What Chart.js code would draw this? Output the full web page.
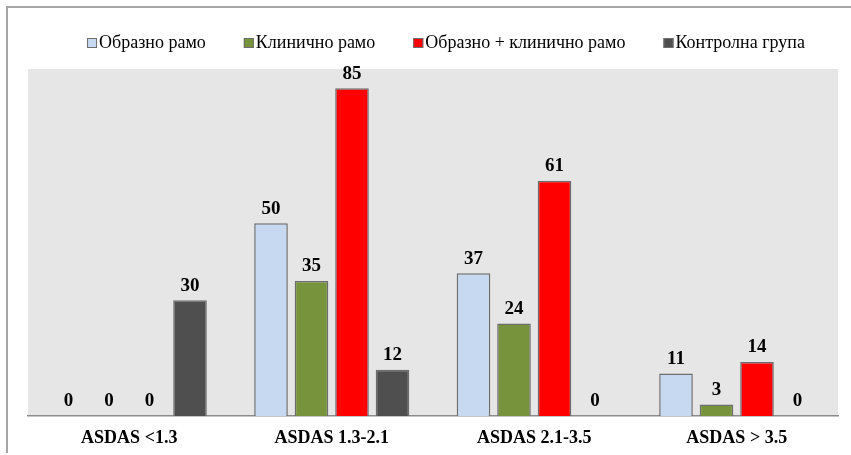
<!DOCTYPE html>
<html>
<head>
<meta charset="utf-8">
<script src="https://cdn.jsdelivr.net/npm/chart.js@4.4.1/dist/chart.umd.min.js"></script>
<style>
  html, body { margin: 0; padding: 0; background: #fff; }
  #wrap { width: 851px; height: 455px; }
</style>
</head>
<body>
<div id="wrap"><canvas id="chart"></canvas></div>
<script>
const categories = ['ASDAS <1.3', 'ASDAS 1.3-2.1', 'ASDAS 2.1-3.5', 'ASDAS > 3.5'];
const seriesNames = ['Образно рамо', 'Клинично рамо', 'Образно + клинично рамо', 'Контролна група'];
const imaging    = [0, 50, 37, 11];
const clinical   = [0, 35, 24, 3];
const combined   = [0, 85, 61, 14];
const control    = [30, 12, 0, 0];
const colours    = ['#c6d9f1', '#77933c', '#ff0000', '#4f4f4f'];

const serif = '"Liberation Serif", "Times New Roman", serif';

// frame + grey plot background
const backdrop = {
  id: 'backdrop',
  beforeDraw(chart) {
    const { ctx, chartArea: a } = chart;
    ctx.save();
    ctx.fillStyle = '#e6e6e6';
    ctx.fillRect(a.left, a.top, a.right - a.left, a.bottom - a.top);
    ctx.strokeStyle = '#a6a6a6';
    ctx.lineWidth = 2;
    ctx.beginPath();
    ctx.moveTo(851, 7);
    ctx.lineTo(7, 7);
    ctx.lineTo(7, 453);
    ctx.stroke();
    ctx.restore();
  }
};

// value labels above the bars
const valueLabels = {
  id: 'valueLabels',
  afterDatasetsDraw(chart) {
    const ctx = chart.ctx;
    ctx.save();
    ctx.font = 'bold 19px ' + serif;
    ctx.fillStyle = '#000';
    ctx.textAlign = 'center';
    ctx.textBaseline = 'bottom';
    chart.data.datasets.forEach((ds, i) => {
      chart.getDatasetMeta(i).data.forEach((bar, j) => {
        ctx.fillText(ds.data[j], bar.x, bar.y - 5);
      });
    });
    ctx.restore();
  }
};

// legend with small square keys, tight text spacing
const keyLegend = {
  id: 'keyLegend',
  afterDraw(chart) {
    const ctx = chart.ctx;
    ctx.save();
    ctx.font = '18px ' + serif;
    ctx.textBaseline = 'middle';
    const gapBox = 2, gapItem = 38, box = 10, y = 43;
    const items = chart.data.datasets.map(ds => ({ label: ds.label, colour: ds.backgroundColor, w: box + gapBox + ctx.measureText(ds.label).width }));
    const total = items.reduce((s, it) => s + it.w, 0) + gapItem * (items.length - 1);
    let x = 446 - total / 2;
    items.forEach(it => {
      ctx.fillStyle = it.colour;
      ctx.fillRect(x, y - box / 2, box, box);
      ctx.strokeStyle = '#6d6d6d';
      ctx.lineWidth = 1;
      ctx.strokeRect(x + 0.5, y - box / 2 + 0.5, box - 1, box - 1);
      ctx.fillStyle = '#000';
      ctx.fillText(it.label, x + box + gapBox, y);
      x += it.w + gapItem;
    });
    ctx.restore();
  }
};

const seriesValues = [imaging, clinical, combined, control];

new Chart(document.getElementById('chart'), {
  type: 'bar',
  data: {
    labels: categories,
    datasets: seriesValues.map((vals, i) => ({
      label: seriesNames[i],
      data: vals,
      backgroundColor: colours[i],
      borderColor: '#6d6d6d',
      borderWidth: c => (c.raw === 0 ? 0 : 1.5),
      categoryPercentage: 0.8,
      barPercentage: 0.83
    }))
  },
  options: {
    responsive: true,
    maintainAspectRatio: false,
    animation: false,
    layout: { padding: { top: 69, left: 28, right: 13, bottom: 0 } },
    plugins: {
      legend: { display: false },
      tooltip: { enabled: false }
    },
    scales: {
      x: {
        grid: { display: false, drawTicks: false },
        border: { display: true, color: '#8c8c8c', width: 1.5 },
        ticks: { color: '#000', font: { family: serif, size: 18, weight: 'bold' }, padding: 12 },
        afterFit(scale) { scale.height = 39; }
      },
      y: {
        display: false,
        min: 0,
        max: 90
      }
    }
  },
  plugins: [backdrop, valueLabels, keyLegend]
});
</script>
</body>
</html>
